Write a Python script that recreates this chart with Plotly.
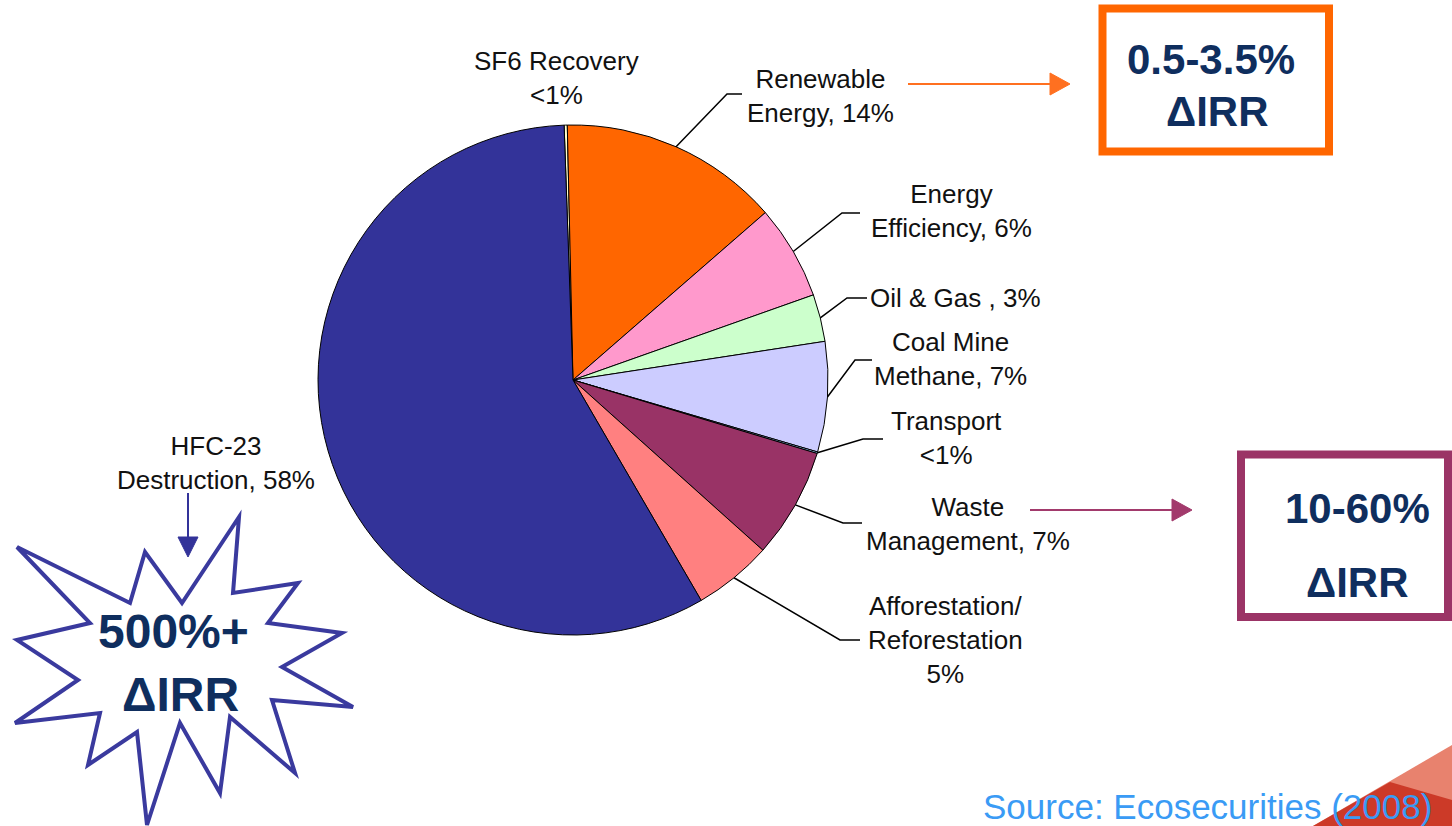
import numpy as np
import plotly.graph_objects as go

# ---------------- data ----------------
categories = ["SF6 Recovery", "Renewable Energy", "Energy Efficiency", "Oil & Gas",
              "Coal Mine Methane", "Transport", "Waste Management",
              "Afforestation/Reforestation", "HFC-23 Destruction"]
shares = [0.2, 14, 6, 3, 7, 0.1, 7, 5, 58]
slice_colors = ["#FFFFCC", "#FF6600", "#FF99CC", "#CCFFCC", "#CCCCFF",
                "#99CCFF", "#993366", "#FF8080", "#333399"]
label_texts = ["SF6 Recovery<br><1%", "Renewable<br>Energy, 14%", "Energy<br>Efficiency, 6%",
               "Oil & Gas , 3%", "Coal Mine<br>Methane, 7%", "Transport<br><1%",
               "Waste<br>Management, 7%", "Afforestation/<br>Reforestation<br>5%",
               "HFC-23<br>Destruction, 58%"]
irr_texts = {"renew": ["0.5-3.5%", "ΔIRR"], "waste": ["10-60%", "ΔIRR"], "hfc": ["500%+", "ΔIRR"]}
source_text = "Source: Ecosecurities (2008)"

# ---------------- layout constants ----------------
W, H = 1452, 826
CX, CY, R = 573, 380, 255
ROTATION = -2


def px(x):
    return x / W


def py(y):
    return 1 - y / H


fig = go.Figure()
fig.add_trace(go.Pie(
    labels=categories, values=shares, sort=False, direction="clockwise",
    rotation=ROTATION, textinfo="none", hoverinfo="label+percent",
    marker=dict(colors=slice_colors, line=dict(color="#000000", width=1)),
    domain=dict(x=[px(CX - R), px(CX + R)], y=[py(CY + R), py(CY - R)]),
    showlegend=False,
))

shapes = []
annotations = []

# leader lines: start at slice mid-angle on the rim (computed from data)
vals = np.array(shares, dtype=float)
frac = vals / vals.sum()
cum = np.concatenate([[0], np.cumsum(frac)])
mid_deg = ROTATION + 360 * (cum[:-1] + cum[1:]) / 2

leader_bends = {
    1: [(727, 94), (742, 94)],
    2: [(842, 213), (860, 213)],
    3: [(847, 298), (867, 298)],
    4: [(855, 360), (872, 360)],
    5: [(863, 439), (883, 439)],
    6: [(843, 523), (862, 523)],
    7: [(840, 640), (860, 640)],
}
for i, pts in leader_bends.items():
    a = np.deg2rad(mid_deg[i])
    sx, sy = CX + R * np.sin(a), CY - R * np.cos(a)
    path = f"M {px(sx)},{py(sy)}" + "".join(f" L {px(x)},{py(y)}" for x, y in pts)
    shapes.append(dict(type="path", xref="paper", yref="paper", path=path,
                       line=dict(color="#000000", width=1.5)))

label_font = dict(family="Liberation Sans, Arial, sans-serif", size=26, color="#111111")
label_pos = [
    (556, 78, "center"), (820, 96, "center"), (951, 211, "center"),
    (868, 298, "left"), (950, 359, "center"), (946, 438, "center"),
    (968, 524, "center"), (945, 640, "center"), (216, 463, "center"),
]
for txt, (x, y, anc) in zip(label_texts, label_pos):
    annotations.append(dict(x=px(x), y=py(y), xref="paper", yref="paper", text=txt,
                            showarrow=False, xanchor=anc, yanchor="middle",
                            font=label_font, align="center"))

# ---------------- boxes ----------------
shapes.append(dict(type="rect", xref="paper", yref="paper",
                   x0=px(1102.5), x1=px(1329), y0=py(151.5), y1=py(8.5),
                   line=dict(color="#FF6600", width=8), fillcolor="rgba(0,0,0,0)"))
shapes.append(dict(type="rect", xref="paper", yref="paper",
                   x0=px(1241), x1=px(1448), y0=py(617), y1=py(454.5),
                   line=dict(color="#9B3466", width=8), fillcolor="rgba(0,0,0,0)"))

# ---------------- arrows ----------------
def arrow_h(x0, x1, y, color, head=20, half=11):
    shapes.append(dict(type="line", xref="paper", yref="paper",
                       x0=px(x0), x1=px(x1 - head + 2), y0=py(y), y1=py(y),
                       line=dict(color=color, width=2)))
    shapes.append(dict(type="path", xref="paper", yref="paper",
                       path=f"M {px(x1-head)},{py(y-half)} L {px(x1)},{py(y)} L {px(x1-head)},{py(y+half)} Z",
                       fillcolor=color, line=dict(color=color, width=1)))


arrow_h(908, 1070, 84, "#FF7020")
arrow_h(1030, 1192, 510, "#A23A6C")
# HFC vertical arrow
shapes.append(dict(type="line", xref="paper", yref="paper",
                   x0=px(188), x1=px(188), y0=py(493), y1=py(540),
                   line=dict(color="#333399", width=2)))
shapes.append(dict(type="path", xref="paper", yref="paper",
                   path=f"M {px(178)},{py(537)} L {px(198)},{py(537)} L {px(188)},{py(557)} Z",
                   fillcolor="#333399", line=dict(color="#333399", width=1)))

# ---------------- starburst ----------------
star = [(17, 547), (130, 603), (145, 552), (182, 603), (239, 517), (233, 593),
        (298, 583), (268, 623), (342, 633), (282, 667), (353, 707), (272, 700),
        (295, 773), (230, 717), (220, 793), (180, 723), (147, 825), (137, 732),
        (88, 765), (100, 713), (15, 723), (78, 680), (17, 640), (90, 623)]
spath = "M " + " L ".join(f"{px(x)},{py(y)}" for x, y in star) + " Z"
shapes.append(dict(type="path", xref="paper", yref="paper", path=spath,
                   fillcolor="#FFFFFF", line=dict(color="#3A3A9E", width=4)))

# ---------------- decorative red corner ----------------
shapes.append(dict(type="path", xref="paper", yref="paper",
                   path=f"M {px(1313)},{py(826)} L {px(1452)},{py(745)} L {px(1452)},{py(826)} Z",
                   fillcolor="#E8826E", line=dict(width=0)))
shapes.append(dict(type="path", xref="paper", yref="paper",
                   path=f"M {px(1313)},{py(826)} L {px(1390)},{py(782)} L {px(1452)},{py(800)} L {px(1452)},{py(826)} Z",
                   fillcolor="#CC3A28", line=dict(width=0)))

# ---------------- IRR texts ----------------
def big_text(x, y, txt, size):
    annotations.append(dict(x=px(x), y=py(y), text=f"<b>{txt}</b>", showarrow=False,
                            xref="paper", yref="paper", xanchor="center", yanchor="middle",
                            font=dict(family="Liberation Sans, Arial, sans-serif",
                                      size=size, color="#0F2E5E")))


big_text(1211, 60, irr_texts["renew"][0], 42)
big_text(1217, 112, irr_texts["renew"][1], 42)
big_text(1357, 508, irr_texts["waste"][0], 42)
big_text(1357, 582, irr_texts["waste"][1], 42)
big_text(173, 631, irr_texts["hfc"][0], 48)
big_text(180, 694, irr_texts["hfc"][1], 48)

annotations.append(dict(x=px(981), y=py(806), text=source_text, showarrow=False,
                        xref="paper", yref="paper", xanchor="left", yanchor="middle",
                        font=dict(family="Liberation Sans, Arial, sans-serif", size=35, color="#3A9BF5")))

fig.update_layout(
    width=W, height=H, margin=dict(l=0, r=0, t=0, b=0),
    paper_bgcolor="#FFFFFF", plot_bgcolor="#FFFFFF",
    shapes=shapes, annotations=annotations, showlegend=False,
)
fig.write_html("out.html", config={"displayModeBar": False})
